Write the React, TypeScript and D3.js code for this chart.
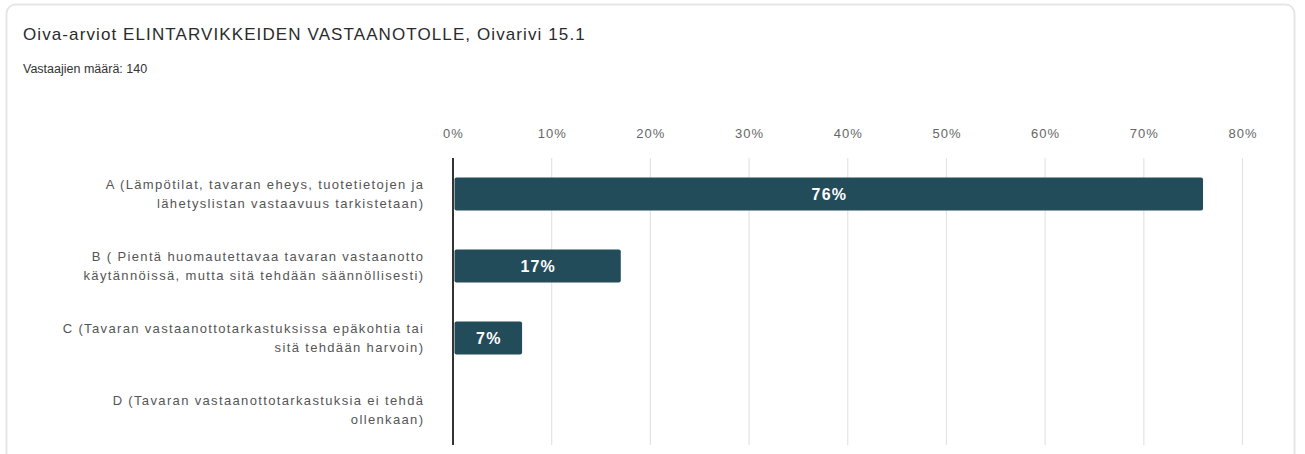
import React from "react";
import * as d3 from "d3";

const categories: string[][] = [
  ["A (Lämpötilat, tavaran eheys, tuotetietojen ja", "lähetyslistan vastaavuus tarkistetaan)"],
  ["B ( Pientä huomautettavaa tavaran vastaanotto", "käytännöissä, mutta sitä tehdään säännöllisesti)"],
  ["C (Tavaran vastaanottotarkastuksissa epäkohtia tai", "sitä tehdään harvoin)"],
  ["D (Tavaran vastaanottotarkastuksia ei tehdä", "ollenkaan)"],
];
const values: number[] = [76, 17, 7, 0];
const ticks: number[] = [0, 10, 20, 30, 40, 50, 60, 70, 80];

const W = 1305;
const H = 454;
const x0 = 453;
const x80 = 1242.5;
const yTop = 158;
const yBot = 446;
const FONT = "'Liberation Sans', Arial, sans-serif";

export default function App() {
  const x = d3.scaleLinear().domain([0, 80]).range([x0, x80]);
  const y = d3
    .scaleBand<number>()
    .domain(d3.range(categories.length))
    .range([yTop, yBot])
    .paddingInner(0.54)
    .paddingOuter(0.27);
  const bw = y.bandwidth();
  const catLS = 1.35;
  const tickLS = 1;
  const barLS = 1.2;
  return (
    <svg
      width={W}
      height={H}
      style={{ position: "absolute", left: 0, top: 0 }}
      fontFamily={FONT}
    >
      <rect x={0} y={0} width={W} height={H} fill="#fff" />
      <rect
        x={6.5}
        y={4.5}
        width={1288}
        height={H + 20}
        rx={9}
        fill="#fff"
        stroke="#e6e6e6"
        strokeWidth={2}
      />
      <text x={23} y={40} fontSize={17} fill="#2b2b2b" letterSpacing={1.1}>
        Oiva-arviot ELINTARVIKKEIDEN VASTAANOTOLLE, Oivarivi 15.1
      </text>
      <text x={23} y={72.5} fontSize={12.5} fill="#333">
        Vastaajien määrä: 140
      </text>
      {ticks.map((t) => (
        <g key={t}>
          {t > 0 && (
            <line
              x1={x(t)}
              x2={x(t)}
              y1={yTop}
              y2={yBot - 1}
              stroke="#e3e3e3"
              strokeWidth={1.2}
            />
          )}
          <text
            x={x(t) + tickLS / 2}
            y={137.5}
            fontSize={13}
            fill="#666"
            textAnchor="middle"
            letterSpacing={tickLS}
          >
            {t}%
          </text>
        </g>
      ))}
      {values.map((v, i) => {
        const by = y(i)!;
        const xs = x(0) + 1.5;
        const w = x(v) - xs;
        return (
          <g key={i}>
            {v > 0 && (
              <rect
                x={xs}
                y={by}
                width={w}
                height={bw}
                rx={2}
                fill="#234c5a"
              />
            )}
            {v > 0 && (
              <text
                x={xs + w / 2 + barLS / 2}
                y={by + bw / 2 + 5.5}
                fontSize={16}
                fontWeight="bold"
                fill="#fff"
                textAnchor="middle"
                letterSpacing={barLS}
              >
                {v}%
              </text>
            )}
            {categories[i].map((line, j) => (
              <text
                key={j}
                x={423 + catLS}
                y={by + bw / 2 - 5 + j * 18.5}
                fontSize={13}
                fill="#555"
                textAnchor="end"
                letterSpacing={catLS}
              >
                {line}
              </text>
            ))}
          </g>
        );
      })}
      <line
        x1={x0}
        x2={x0}
        y1={yTop}
        y2={yBot - 1}
        stroke="#333"
        strokeWidth={2}
      />
    </svg>
  );
}
